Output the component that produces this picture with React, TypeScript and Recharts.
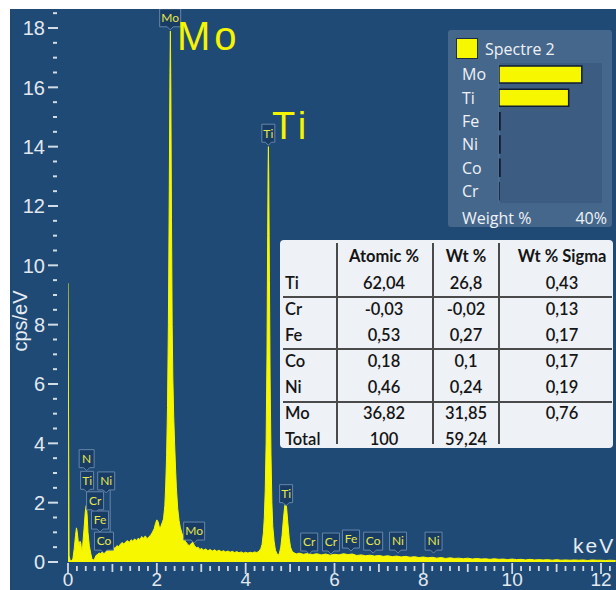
import React from 'react';
import {
  AreaChart, Area, XAxis, YAxis, ReferenceDot, ReferenceLine,
  BarChart, Bar, CartesianGrid,
} from 'recharts';

// ---------- spectrum data: [keV, cps/eV] ----------
const LOW_REGION: [number, number][] = [
  [0.0, 9.4], [0.025, 0.2], [0.05, 0.05], [0.08, 0.05], [0.11, 0.1], [0.14, 0.45],
  [0.17, 0.9], [0.19, 1.15], [0.21, 1.0], [0.23, 0.7], [0.25, 0.55], [0.27, 0.7],
  [0.29, 0.62], [0.31, 0.3], [0.33, 0.55], [0.36, 1.1], [0.39, 1.7], [0.41, 1.9],
  [0.43, 1.6], [0.45, 1.0], [0.48, 0.55], [0.51, 0.3], [0.54, 0.1], [0.57, 0.06],
  [0.6, 0.12], [0.63, 0.22], [0.66, 0.25], [0.7, 0.3], [0.74, 0.28], [0.78, 0.36],
  [0.82, 0.33], [0.86, 0.4], [0.9, 0.38], [0.94, 0.44], [0.98, 0.42], [1.02, 0.5],
  [1.06, 0.46], [1.1, 0.55], [1.14, 0.52], [1.18, 0.6], [1.22, 0.66], [1.26, 0.6],
  [1.3, 0.68], [1.34, 0.72], [1.38, 0.66], [1.42, 0.75], [1.46, 0.7], [1.5, 0.78],
  [1.54, 0.72], [1.58, 0.8], [1.62, 0.76], [1.66, 0.86], [1.7, 0.8], [1.74, 0.88],
  [1.78, 0.78], [1.82, 0.85], [1.86, 0.9], [1.9, 1.0], [1.94, 1.12], [1.97, 1.3],
  [2.0, 1.42], [2.03, 1.35], [2.06, 1.15], [2.09, 1.2], [2.12, 1.32], [2.15, 1.45],
];
const MO_PEAK: [number, number][] = [
  [2.18, 1.9], [2.2, 2.6], [2.22, 3.6], [2.24, 5.2], [2.26, 8.0], [2.28, 12.5],
  [2.295, 16.5], [2.305, 17.9], [2.315, 16.0], [2.33, 11.5], [2.345, 8.0],
  [2.36, 6.2], [2.38, 4.9], [2.4, 4.0], [2.42, 3.2], [2.44, 2.5], [2.47, 1.8],
  [2.5, 1.4], [2.53, 1.15], [2.57, 0.95], [2.61, 0.8],
];
const MID_REGION: [number, number][] = [
  [2.65, 0.68], [2.69, 0.6], [2.73, 0.55], [2.77, 0.62], [2.81, 0.66], [2.85, 0.55],
  [2.89, 0.48], [2.93, 0.5], [2.97, 0.42], [3.01, 0.46], [3.05, 0.4], [3.1, 0.44],
  [3.15, 0.38], [3.2, 0.42], [3.25, 0.37], [3.3, 0.41], [3.35, 0.36], [3.4, 0.4],
  [3.45, 0.35], [3.5, 0.38], [3.55, 0.34], [3.6, 0.37], [3.65, 0.33], [3.7, 0.36],
  [3.75, 0.32], [3.8, 0.35], [3.85, 0.31], [3.9, 0.34], [3.95, 0.3], [4.0, 0.33],
  [4.05, 0.3], [4.1, 0.33], [4.15, 0.31], [4.2, 0.34], [4.25, 0.32], [4.3, 0.36],
  [4.34, 0.45],
];
const TI_PEAKS: [number, number][] = [
  [4.37, 0.6], [4.4, 1.0], [4.42, 1.5], [4.44, 2.4], [4.46, 4.0], [4.48, 7.0],
  [4.495, 11.0], [4.505, 13.3], [4.512, 14.0], [4.52, 13.0], [4.535, 9.5],
  [4.55, 6.2], [4.57, 3.6], [4.59, 2.0], [4.61, 1.2], [4.64, 0.7], [4.67, 0.4],
  [4.7, 0.3], [4.73, 0.22], [4.76, 0.3], [4.79, 0.5], [4.82, 0.9], [4.85, 1.45],
  [4.88, 1.9], [4.9, 2.0], [4.92, 1.85], [4.95, 1.3], [4.98, 0.8], [5.01, 0.5],
  [5.05, 0.35], [5.1, 0.3],
];
const TAIL: [number, number][] = [
  [5.15, 0.27], [5.2, 0.3], [5.3, 0.26], [5.4, 0.29], [5.5, 0.25], [5.6, 0.28],
  [5.7, 0.24], [5.8, 0.27], [5.9, 0.23], [6.0, 0.26], [6.1, 0.24], [6.2, 0.28],
  [6.3, 0.25], [6.4, 0.27], [6.5, 0.22], [6.6, 0.24], [6.7, 0.21], [6.8, 0.23],
  [6.9, 0.2], [7.0, 0.22], [7.1, 0.19], [7.2, 0.21], [7.3, 0.18], [7.4, 0.2],
  [7.5, 0.17], [7.6, 0.19], [7.7, 0.16], [7.8, 0.18], [7.9, 0.15], [8.0, 0.17],
  [8.1, 0.14], [8.2, 0.16], [8.3, 0.13], [8.4, 0.15], [8.5, 0.12], [8.6, 0.14],
  [8.7, 0.12], [8.8, 0.13], [8.9, 0.11], [9.0, 0.13], [9.1, 0.1], [9.2, 0.12],
  [9.3, 0.1], [9.4, 0.11], [9.5, 0.09], [9.6, 0.11], [9.7, 0.09], [9.8, 0.1],
  [9.9, 0.08], [10.0, 0.1], [10.1, 0.08], [10.2, 0.09], [10.3, 0.07], [10.4, 0.09],
  [10.5, 0.07], [10.6, 0.08], [10.7, 0.07], [10.8, 0.08], [10.9, 0.06], [11.0, 0.08],
  [11.1, 0.06], [11.2, 0.07], [11.3, 0.06], [11.4, 0.07], [11.5, 0.06], [11.6, 0.07],
  [11.7, 0.05], [11.8, 0.07], [11.9, 0.06], [12.0, 0.06], [12.1, 0.05], [12.2, 0.06],
  [12.33, 0.05],
];

const SPECTRUM = [...LOW_REGION, ...MO_PEAK, ...MID_REGION, ...TI_PEAKS, ...TAIL].map(
  ([kev, cps]) => ({ kev, cps })
);

// ---------- axes ----------
const X_MAX = 12.337;
const Y_MAX = 18.64;
const X_TICKS = Array.from({ length: 62 }, (_, i) => Math.round(i * 2) / 10);
const Y_TICKS = Array.from({ length: 38 }, (_, i) => i / 2);

// ---------- element markers ----------
const MARKERS: { el: string; kev: number; cps: number }[] = [
  { el: 'Mo', kev: 2.30, cps: 18.04 },
  { el: 'Ti', kev: 4.51, cps: 14.15 },
  { el: 'N', kev: 0.42, cps: 3.18 },
  { el: 'Ti', kev: 0.43, cps: 2.45 },
  { el: 'Ni', kev: 0.86, cps: 2.43 },
  { el: 'Cr', kev: 0.61, cps: 1.76 },
  { el: 'Fe', kev: 0.72, cps: 1.11 },
  { el: 'Co', kev: 0.81, cps: 0.4 },
  { el: 'Mo', kev: 2.84, cps: 0.74 },
  { el: 'Ti', kev: 4.91, cps: 2.0 },
  { el: 'Cr', kev: 5.43, cps: 0.37 },
  { el: 'Cr', kev: 5.92, cps: 0.37 },
  { el: 'Fe', kev: 6.37, cps: 0.47 },
  { el: 'Co', kev: 6.87, cps: 0.4 },
  { el: 'Ni', kev: 7.43, cps: 0.4 },
  { el: 'Ni', kev: 8.23, cps: 0.4 },
];
const CONNECTORS: { kev: number; from: number; to: number }[] = [
  { kev: 0.43, from: 2.45, to: 1.95 },
  { kev: 0.95, from: 2.43, to: 1.0 },
];
const BOX_W: Record<string, number> = { Mo: 21, Ti: 13, N: 15, Cr: 17, Fe: 17, Co: 19, Ni: 17 };

// ---------- quantification table ----------
const TABLE_HEADERS = ['Atomic %', 'Wt %', 'Wt % Sigma'];
const TABLE_ELEMENTS = ['Ti', 'Cr', 'Fe', 'Co', 'Ni', 'Mo', 'Total'];
const ATOMIC = ['62,04', '-0,03', '0,53', '0,18', '0,46', '36,82', '100'];
const WT = ['26,8', '-0,02', '0,27', '0,1', '0,24', '31,85', '59,24'];
const SIGMA = ['0,43', '0,13', '0,17', '0,17', '0,19', '0,76', ''];

// ---------- legend mini chart ----------
const LEGEND_ORDER = ['Mo', 'Ti', 'Fe', 'Ni', 'Co', 'Cr'];
const LEGEND_DATA = LEGEND_ORDER.map((el) => ({
  el,
  wt: parseFloat(WT[TABLE_ELEMENTS.indexOf(el)].replace(',', '.')),
}));

const AXIS_FONT = '"Liberation Sans", Arial, sans-serif';
const BG = '#1f4a75';
const YELLOW = '#f7f700';

const XTick = (props: any) => {
  const { x, y, payload } = props;
  const v = payload.value as number;
  const isInt = Math.abs(v - Math.round(v)) < 1e-6;
  const isEven = isInt && Math.round(v) % 2 === 0;
  const [a, b] = isEven ? [1, 12] : isInt ? [2, 10] : [4, 9];
  return (
    <g>
      <line x1={x} x2={x} y1={y + a} y2={y + b} stroke="#cfd8e2" strokeWidth={1.8} />
      {isEven && (
        <text x={x} y={y + 24} textAnchor="middle" fontSize={19} fill="#e2e8ef" fontFamily={AXIS_FONT}>
          {Math.round(v)}
        </text>
      )}
    </g>
  );
};

const YTick = (props: any) => {
  const { x, y, payload } = props;
  const v = payload.value as number;
  const major = Number.isInteger(v) && v % 2 === 0;
  return (
    <g>
      <line x1={x - (major ? 20 : 15)} x2={x - (major ? 10 : 11)} y1={y} y2={y} stroke="#d3dbe5" strokeWidth={2} />
      {major && (
        <text x={x - 23} y={y} dy="0.36em" textAnchor="end" fontSize={20} fill="#e2e8ef" fontFamily={AXIS_FONT}>
          {v}
        </text>
      )}
    </g>
  );
};

const makeMarkerShape = (el: string) => (p: any) => {
  const { cx, cy } = p;
  const w = BOX_W[el] ?? 18;
  const h = 18;
  const l = cx - w / 2;
  return (
    <g>
      <path
        d={`M${l},${cy - h} h${w} v${h} H${cx + 3} l-3,3 l-3,-3 H${l} Z`}
        fill="#183c63"
        stroke="#6685aa"
        strokeWidth={1}
      />
      <text x={cx} y={cy - h / 2} dy="0.36em" textAnchor="middle" fontSize={12} fill="#e6e64e" fontFamily="Lato, sans-serif">
        {el}
      </text>
    </g>
  );
};

const LegendTick = (props: any) => {
  const { x, y, payload } = props;
  return (
    <text x={x - 37} y={y} dy="0.36em" fontSize={16} fill="#eef2f7" fontFamily='"Open Sans", sans-serif'>
      {payload.value}
    </text>
  );
};

const TABLE_FONT = 'Lato, "Open Sans", sans-serif';
const ROW_TOP = 43;
const ROW_STEP = 26;
const COL_X = [104, 186, 282];

function QuantTable() {
  const cell = (text: string, cx: number, cy: number, bold = false, left = false) => (
    <div
      key={`${text}-${cx}-${cy}`}
      style={{
        position: 'absolute',
        left: left ? cx : cx - 60,
        width: left ? 60 : 120,
        top: cy - 10,
        height: 20,
        lineHeight: '20px',
        textAlign: left ? 'left' : 'center',
        fontSize: 16.5,
        fontWeight: bold ? 700 : 600,
        color: '#151515',
        fontFamily: TABLE_FONT,
        whiteSpace: 'nowrap',
      }}
    >
      {text}
    </div>
  );
  const vLines = [56, 152, 218];
  const hLines = [56, 108, 161];
  return (
    <div
      style={{
        position: 'absolute', left: 280, top: 240, width: 333, height: 208,
        background: '#eef1f6', borderRadius: 4,
      }}
    >
      {vLines.map((x) => (
        <div key={'v' + x} style={{ position: 'absolute', left: x, top: 3, width: 1.5, height: 201, background: '#4a4a4a' }} />
      ))}
      {hLines.map((y) => (
        <div key={'h' + y} style={{ position: 'absolute', left: 3, top: y, width: 329, height: 1.5, background: '#4a4a4a' }} />
      ))}
      {TABLE_HEADERS.map((h, i) => cell(h, COL_X[i], 16, true))}
      {TABLE_ELEMENTS.map((el, r) => {
        const cy = ROW_TOP + r * ROW_STEP;
        return (
          <React.Fragment key={el}>
            {cell(el, 5, cy, false, true)}
            {cell(ATOMIC[r], COL_X[0], cy)}
            {cell(WT[r], COL_X[1], cy)}
            {SIGMA[r] ? cell(SIGMA[r], COL_X[2], cy) : null}
          </React.Fragment>
        );
      })}
    </div>
  );
}

function LegendPanel() {
  const font = '"Open Sans", sans-serif';
  return (
    <div style={{ position: 'absolute', left: 448, top: 30, width: 164, height: 197, background: '#46678c', borderRadius: 3 }}>
      <div style={{ position: 'absolute', left: 8, top: 8, width: 20, height: 19, background: YELLOW, border: '1px solid #1d2d44' }} />
      <div style={{ position: 'absolute', left: 37, top: 8, height: 22, lineHeight: '22px', fontSize: 16, color: '#eef2f7', fontFamily: font }}>
        Spectre 2
      </div>
      <div style={{ position: 'absolute', left: 8, top: 33 }}>
        <BarChart
          width={147}
          height={140}
          data={LEGEND_DATA}
          layout="vertical"
          margin={{ top: 0, right: 0, bottom: 0, left: 0 }}
          barSize={17}
        >
          <CartesianGrid horizontal={false} vertical fill="#3c5c82" stroke="#56759a" />
          <XAxis type="number" domain={[0, 40]} ticks={[0, 10, 20, 30, 40]} allowDataOverflow tick={false} axisLine={false} tickLine={false} height={0} />
          <YAxis type="category" dataKey="el" width={43} tick={<LegendTick />} tickSize={0} tickMargin={0} axisLine={false} tickLine={false} interval={0} />
          <Bar dataKey="wt" fill={YELLOW} stroke="#0f1d30" strokeWidth={1.5} minPointSize={1} isAnimationActive={false} />
        </BarChart>
      </div>
      <div style={{ position: 'absolute', left: 14, top: 177, height: 22, lineHeight: '22px', fontSize: 16, color: '#eef2f7', fontFamily: font }}>
        Weight %
      </div>
      <div style={{ position: 'absolute', right: 5, top: 177, height: 22, lineHeight: '22px', fontSize: 16, color: '#eef2f7', fontFamily: font }}>
        40%
      </div>
    </div>
  );
}

export default function App() {
  return (
    <div style={{ position: 'fixed', left: 0, top: 0, width: 616, height: 590, background: '#ffffff', overflow: 'hidden' }}>
      <div style={{ position: 'absolute', left: 10, top: 9, width: 606, height: 581, background: BG, overflow: 'hidden' }}>
        <AreaChart width={606} height={600} data={SPECTRUM} margin={{ top: 0, right: 0, bottom: 0, left: 0 }}>
          <XAxis
            dataKey="kev" type="number" domain={[0, X_MAX]} ticks={X_TICKS} interval={0}
            tick={<XTick />} tickSize={0} tickMargin={0} axisLine={false} tickLine={false}
            height={47} allowDataOverflow
          />
          <YAxis
            type="number" domain={[0, Y_MAX]} ticks={Y_TICKS} interval={0}
            tick={<YTick />} tickSize={0} tickMargin={0} axisLine={false} tickLine={false}
            width={58} allowDataOverflow
          />
          <Area
            type="linear" dataKey="cps" stroke={YELLOW} strokeWidth={1} fill={YELLOW} fillOpacity={1}
            isAnimationActive={false} dot={false} activeDot={false}
          />
          {CONNECTORS.map((c, i) => (
            <ReferenceLine
              key={'c' + i}
              segment={[{ x: c.kev, y: c.from }, { x: c.kev, y: c.to }]}
              stroke="#6685aa" strokeWidth={1} ifOverflow="visible"
            />
          ))}
          {MARKERS.map((m, i) => (
            <ReferenceDot
              key={'m' + i} x={m.kev} y={m.cps} r={0} ifOverflow="visible"
              shape={makeMarkerShape(m.el)}
            />
          ))}
        </AreaChart>
      </div>
      <svg style={{ position: 'absolute', left: 0, top: 0 }} width={616} height={590}>
        <text x={177} y={49.5} fontSize={40} letterSpacing={4} fill="#f5f500" fontFamily={AXIS_FONT}>Mo</text>
        <text x={272} y={138.5} fontSize={38} letterSpacing={4} fill="#f5f500" fontFamily={AXIS_FONT}>Ti</text>
        <text x={573} y={553} fontSize={21} letterSpacing={2} fill="#e6ecf2" fontFamily={AXIS_FONT}>keV</text>
        <text x={27} y={321} transform="rotate(-90 27 321)" textAnchor="middle" fontSize={20} fill="#e6ecf2" fontFamily={AXIS_FONT}>
          cps/eV
        </text>
      </svg>
      <QuantTable />
      <LegendPanel />
    </div>
  );
}
